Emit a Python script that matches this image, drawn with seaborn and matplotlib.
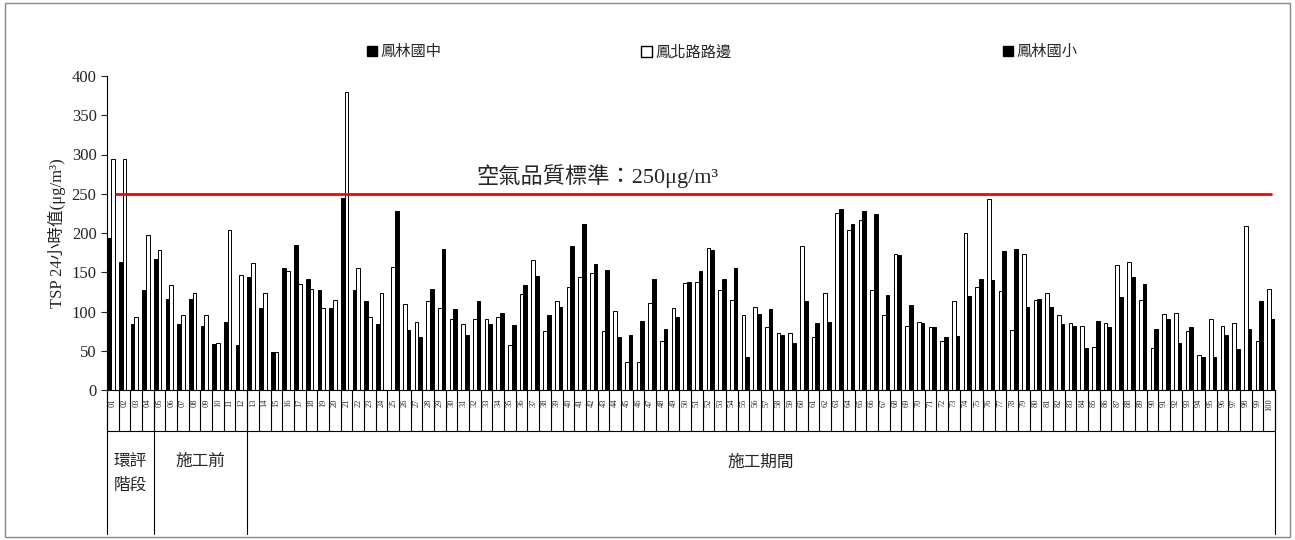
import matplotlib
matplotlib.use("Agg")
import matplotlib.pyplot as plt
import matplotlib.patches as mpatches
import matplotlib.transforms as mtrans
import numpy as np
import pandas as pd
import seaborn as sns

sns.set_style("white")
plt.rcParams['font.family'] = ['Liberation Serif', 'Noto Sans CJK TC', 'DejaVu Sans']

# values per sampling date (NaN = not measured)
jhong = [193,163,84,127,167,116,84,116,82,59,87,57,144,104,49,156,185,141,128,104,245,127,113,84]
roadside = [294,294,93,197,178,134,96,123,95,60,204,146,162,124,49,151,135,129,104,115,379,155,93,123,
            157,110,87,113,105,91,84,91,91,93,57,122,165,75,113,131,144,149,75,101,36,36,111,62,105,
            136,137,181,127,115,95,106,80,73,72,184,67,124,226,204,217,127,95,173,82,87,80,62,113,200,
            131,243,126,76,173,115,124,95,85,82,55,85,159,163,115,54,97,98,75,45,91,82,85,209,62,129]
siao = [228,76,67,129,180,103,70,114,84,98,83,134,145,96,106,183,212,161,153,67,70,88,142,78,93,
        137,152,178,142,155,42,97,103,70,60,113,85,87,231,212,228,224,121,172,108,85,80,67,69,120,
        142,140,177,180,106,116,106,84,82,54,88,80,119,144,135,78,90,60,80,42,42,70,52,78,113,90]
n = len(roadside)
dates = ["%02d" % (i + 1) for i in range(n)]
groups = ["環評\n階段", "施工前", "施工期間"]
group_sizes = [4, 8, 88]
series = ["鳳林國中", "鳳北路路邊", "鳳林國小"]

v1 = jhong + [np.nan] * (n - len(jhong))
v3 = [np.nan] * (n - len(siao)) + siao
df = pd.DataFrame({
    "date": dates * 3,
    "series": [series[0]] * n + [series[1]] * n + [series[2]] * n,
    "value": v1 + roadside + v3,
})

fig = plt.figure(figsize=(12.95, 5.40), dpi=100)
ax = fig.add_axes([107/1295, 150/540, 1168/1295, 314/540])
sns.barplot(data=df, x="date", y="value", hue="series", hue_order=series, order=dates,
            palette={series[0]: "black", series[1]: "white", series[2]: "black"},
            edgecolor="black", linewidth=0.7, width=0.95, dodge=True, ax=ax, legend=False)
ax.set_xlim(-0.5, n - 0.5)
ax.set_ylim(0, 400)
ax.set_yticks(range(0, 401, 50))
ax.tick_params(axis='y', labelsize=12, length=4, direction='out', left=True)
ax.set_xticks(range(n))
ax.set_xticklabels(dates, rotation=90, fontsize=6)
ax.tick_params(axis='x', length=0, pad=6)
ax.set_xlabel("")
ax.set_ylabel("TSP 24小時值(μg/m³)", fontsize=12)
for s in ["top", "right"]:
    ax.spines[s].set_visible(False)
for s in ["left", "bottom"]:
    ax.spines[s].set_color("black")

ax.plot([0.3, n - 0.8], [250, 250], color="red", lw=2)
ax.text(41.5, 257, "空氣品質標準：250μg/m³", fontsize=16, ha="center", va="bottom")

tr = mtrans.blended_transform_factory(ax.transData, ax.transAxes)
for i in range(n + 1):
    ax.plot([i - 0.5, i - 0.5], [0, -0.13], color="black", lw=0.8, transform=tr, clip_on=False)
ax.plot([-0.5, n - 0.5], [-0.13, -0.13], color="black", lw=0.8, transform=tr, clip_on=False)
start = 0
for g, sz in zip(groups, group_sizes):
    ax.plot([start - 0.5, start - 0.5], [0, -0.46], color="black", lw=0.8, transform=tr, clip_on=False)
    ax.text(start - 0.5 + sz / 2, -0.205, g, fontsize=12, ha="center", va="top", transform=tr,
            linespacing=1.6)
    start += sz
ax.plot([n - 0.5, n - 0.5], [0, -0.46], color="black", lw=0.8, transform=tr, clip_on=False)

handles = [mpatches.Patch(facecolor="black", edgecolor="black"),
           mpatches.Patch(facecolor="white", edgecolor="black"),
           mpatches.Patch(facecolor="black", edgecolor="black")]
for h, lab, xx in zip(handles, series, [0.312, 0.53, 0.803]):
    fig.legend([h], [lab], loc="center", bbox_to_anchor=(xx, 0.903), frameon=False,
               fontsize=11, handlelength=0.7, handleheight=0.7, handletextpad=0.2)

fig.patches.append(mpatches.Rectangle((0.004, 0.006), 0.992, 0.988, transform=fig.transFigure,
                                      fill=False, edgecolor="#888888", lw=1))
fig.savefig("out.png", dpi=100)
